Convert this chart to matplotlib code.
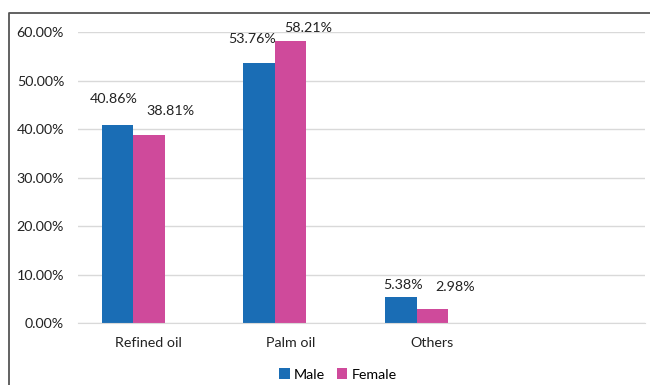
import matplotlib
matplotlib.use('Agg')
import matplotlib.pyplot as plt
from matplotlib.lines import Line2D
from matplotlib.ticker import FuncFormatter

# data
categories = ['Refined oil', 'Palm oil', 'Others', '']
male = [40.86, 53.76, 5.38]
female = [38.81, 58.21, 2.98]

# label nudges in pixels (dx, dy) from the top centre of each bar
male_offsets = [(-4, 26), (-7, 24), (2, 12)]
female_offsets = [(22, 24), (18, 13), (23, 22)]

blue = '#1a6db5'
pink = '#cf4a9b'

plt.rcParams['font.family'] = ['Lato', 'DejaVu Sans']
fs = 10.3

fig = plt.figure(figsize=(6.5, 3.85), dpi=100)
ax = fig.add_axes([0.12, 0.161, 0.872, 0.755])

w = 0.222
xs = list(range(len(male)))
bm = ax.bar([x - w for x in xs], [v / 100 for v in male], w, color=blue, label='Male')
bf = ax.bar(xs, [v / 100 for v in female], w, color=pink, label='Female')

for bars, vals, offs in [(bm, male, male_offsets), (bf, female, female_offsets)]:
    for b, v, (dx, dy) in zip(bars, vals, offs):
        ax.annotate('%.2f%%' % v, (b.get_x() + b.get_width() / 2, b.get_height()),
                    xytext=(dx, dy), textcoords='offset pixels',
                    ha='center', va='center', fontsize=fs, color='#222222')

ax.set_xlim(-0.5, len(categories) - 0.5)
ax.set_ylim(0, 0.6)
ax.set_yticks([i / 10 for i in range(7)])
ax.yaxis.set_major_formatter(FuncFormatter(lambda y, _: '%.2f%%' % (y * 100)))
ax.set_xticks(range(len(categories)))
ax.set_xticklabels(categories)
ax.tick_params(length=0, labelsize=fs, colors='#222222')
ax.tick_params(axis='x', pad=10)
ax.tick_params(axis='y', pad=10)

ax.grid(axis='y', color='#d9d9d9', linewidth=1)
ax.set_axisbelow(True)
for s in ['top', 'right', 'left']:
    ax.spines[s].set_visible(False)
ax.spines['bottom'].set_color('#d9d9d9')

fig.legend(handles=[bm, bf], loc='center', bbox_to_anchor=(0.52, 0.027), ncol=2,
           frameon=False, fontsize=fs, handlelength=0.75, handleheight=0.75,
           handletextpad=0.3, columnspacing=0.8)

# chart border (left and top only visible in the crop)
fig.add_artist(Line2D([9 / 650, 9 / 650, 1.0], [0.0, 1 - 13 / 385, 1 - 13 / 385],
                      transform=fig.transFigure, color='#555555', linewidth=1.3))

fig.savefig('out.png', dpi=100, facecolor='white')
